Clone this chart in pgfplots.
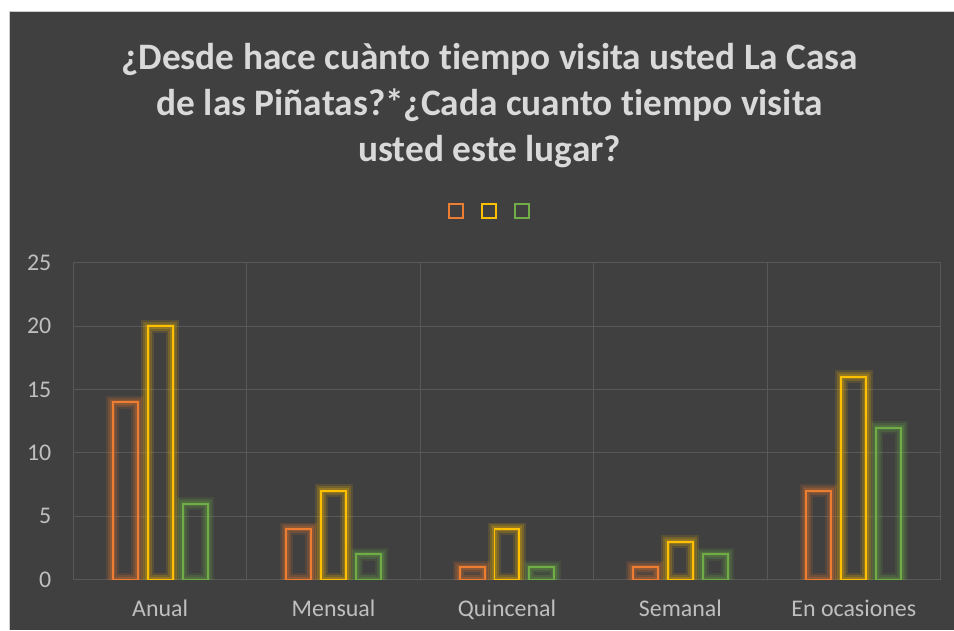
\documentclass[border=0pt]{standalone}
\usepackage{pgfplots}
\pgfplotsset{compat=1.18}
\usepackage{fontspec}
\setmainfont{Carlito}[Ligatures=NoCommon]
\makeatletter
\tikzset{nopre/.code={\let\tikz@preactions\pgfutil@empty}}
\makeatother
\definecolor{bgc}{HTML}{404040}
\definecolor{gridc}{HTML}{585858}
\definecolor{titlec}{HTML}{D9D9D9}
\definecolor{tickc}{HTML}{BFBFBF}
\definecolor{orangeC}{HTML}{ED7D31}
\definecolor{yellowC}{HTML}{FFC000}
\definecolor{greenC}{HTML}{70AD47}
\begin{document}
\begin{tikzpicture}[x=1bp,y=1bp]
\fill[white] (0,0) rectangle (954,630);
\fill[bgc] (10,0) rectangle (954,618);
\draw[black!20, line width=1bp] (10,0) -- (10,618) -- (954,618);
\node[font=\bfseries\fontsize{37.5}{46}\selectfont, text=titlec, align=center] at (490,524.5)
 {¿Desde hace cuànto tiempo visita usted La Casa\\de las Piñatas?*¿Cada cuanto tiempo visita\\usted este lugar?};
\begin{axis}[
  at={(73.5bp,50bp)}, anchor=south west, scale only axis,
  width=867.5bp, height=317bp,
  xmin=-0.5, xmax=4.5, ymin=0, ymax=25,
  xtick={0,1,2,3,4},
  xticklabels={Anual,Mensual,Quincenal,Semanal,En ocasiones},
  minor xtick={-0.5,0.5,1.5,2.5,3.5,4.5},
  ytick={0,5,10,15,20,25},
  xminorgrids=true, ymajorgrids=true,
  grid style={draw=gridc, line width=1bp},
  minor grid style={draw=gridc, line width=1bp},
  axis line style={draw=none},
  major tick length=0pt, minor tick length=0pt,
  tick style={draw=none},
  /pgf/number format/assume math mode=true,
  ticklabel style={text=tickc, font=\fontsize{24}{28}\selectfont, inner sep=0pt},
  yticklabel style={xshift=-22bp},
  xticklabel style={text height=16bp, text depth=5bp, yshift=-21bp},
  ybar=10bp, bar width=25bp,
  legend style={at={(0.4845,1.164)}, anchor=center, draw=none, fill=none,
    legend columns=3, column sep=8bp, nodes={inner sep=0pt}},
]
\addplot[draw=orangeC, line width=2bp, fill=none,
  preaction={draw=orangeC, draw opacity=0.12, line width=13bp},
  preaction={draw=orangeC, draw opacity=0.18, line width=9bp},
  preaction={draw=orangeC, draw opacity=0.22, line width=5bp},
  legend image code/.code={\draw[nopre, draw=orangeC, line width=2bp, fill=none] (0bp,-7bp) rectangle (14bp,7bp);}]
  coordinates {(0,14) (1,4) (2,1) (3,1) (4,7)};
\addlegendentry{}
\addplot[draw=yellowC, line width=2bp, fill=none,
  preaction={draw=yellowC, draw opacity=0.12, line width=13bp},
  preaction={draw=yellowC, draw opacity=0.18, line width=9bp},
  preaction={draw=yellowC, draw opacity=0.22, line width=5bp},
  legend image code/.code={\draw[nopre, draw=yellowC, line width=2bp, fill=none] (0bp,-7bp) rectangle (14bp,7bp);}]
  coordinates {(0,20) (1,7) (2,4) (3,3) (4,16)};
\addlegendentry{}
\addplot[draw=greenC, line width=2bp, fill=none,
  preaction={draw=greenC, draw opacity=0.12, line width=13bp},
  preaction={draw=greenC, draw opacity=0.18, line width=9bp},
  preaction={draw=greenC, draw opacity=0.22, line width=5bp},
  legend image code/.code={\draw[nopre, draw=greenC, line width=2bp, fill=none] (0bp,-7bp) rectangle (14bp,7bp);}]
  coordinates {(0,6) (1,2) (2,1) (3,2) (4,12)};
\addlegendentry{}
\end{axis}
\end{tikzpicture}
\end{document}
